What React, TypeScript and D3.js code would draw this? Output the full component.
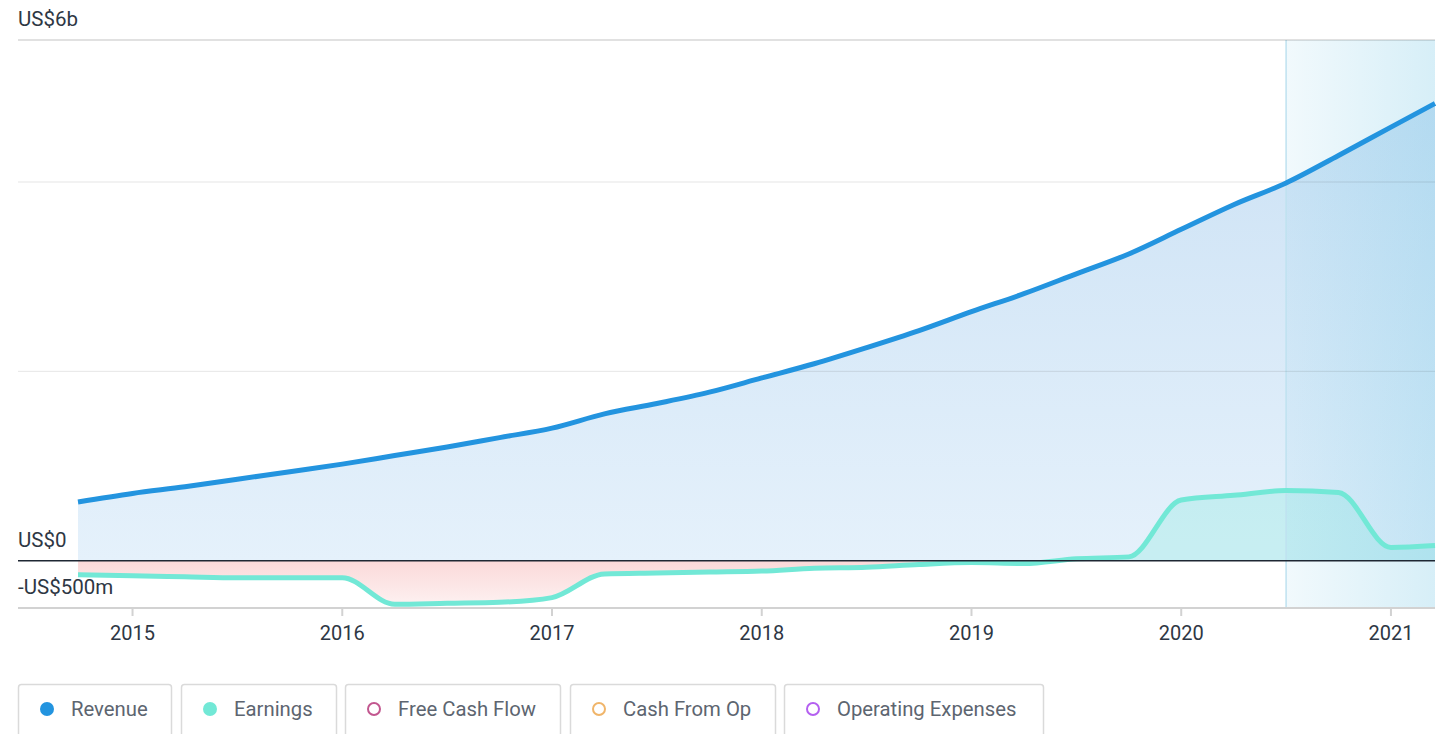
import React from "react";
import * as d3 from "d3";

// quarterly points, decimal years
const dates = [
  2014.74, 2015.0, 2015.25, 2015.5, 2015.75, 2016.0, 2016.25, 2016.5, 2016.75,
  2017.0, 2017.25, 2017.5, 2017.75, 2018.0, 2018.25, 2018.5, 2018.75, 2019.0,
  2019.25, 2019.5, 2019.75, 2020.0, 2020.25, 2020.5, 2020.75, 2021.0, 2021.21,
];
// US$ billions
const revenue = [
  0.62, 0.71, 0.78, 0.86, 0.94, 1.02, 1.11, 1.2, 1.3, 1.4, 1.55, 1.66, 1.78,
  1.93, 2.08, 2.25, 2.43, 2.63, 2.82, 3.03, 3.24, 3.5, 3.76, 3.99, 4.28, 4.58,
  4.83,
];
const earnings = [
  -0.15, -0.16, -0.17, -0.18, -0.18, -0.18, -0.46, -0.45, -0.44, -0.39, -0.14,
  -0.13, -0.12, -0.11, -0.08, -0.07, -0.04, -0.02, -0.03, 0.02, 0.04, 0.64,
  0.69, 0.74, 0.72, 0.14, 0.16,
];
const yearTicks = [2015, 2016, 2017, 2018, 2019, 2020, 2021];
const gridValues = [2, 4];
const forecastStart = 2020.5;
const yLabels = [
  { v: 5.5, text: "US$6b" },
  { v: 0, text: "US$0" },
  { v: -0.5, text: "-US$500m" },
];
const legendItems = [
  { label: "Revenue", color: "#2394df", filled: true },
  { label: "Earnings", color: "#72e8d6", filled: true },
  { label: "Free Cash Flow", color: "#c2578f", filled: false },
  { label: "Cash From Op", color: "#f0b56a", filled: false },
  { label: "Operating Expenses", color: "#b460f0", filled: false },
];
const legendWidths = [153, 155, 215, 205, 259];

const W = 1442;
const H = 734;
const left = 18;
const right = 1435;
const top = 40;
const bottom = 608;
const font = "Roboto, 'Noto Sans', sans-serif";

export default function App() {
  const x = d3.scaleLinear().domain([2014.74, 2021.21]).range([78, right]);
  const y = d3.scaleLinear().domain([-0.5, 5.5]).range([bottom, top]);

  const rev = dates.map((d, i) => ({ d, v: revenue[i] }));
  const earn = dates.map((d, i) => ({ d, v: earnings[i] }));

  const line = d3
    .line<{ d: number; v: number }>()
    .x((p) => x(p.d))
    .y((p) => y(p.v))
    .curve(d3.curveMonotoneX);
  const area = d3
    .area<{ d: number; v: number }>()
    .x((p) => x(p.d))
    .y0(y(0))
    .y1((p) => y(p.v))
    .curve(d3.curveMonotoneX);

  const y0 = y(0);
  const fx = x(forecastStart);

  let lx = left;
  const legend = legendItems.map((it, i) => {
    const bx = Math.round(lx);
    lx += legendWidths[i] + 9.5;
    return { ...it, bx, w: legendWidths[i] };
  });

  return (
    <svg
      width={W}
      height={H}
      style={{ position: "absolute", left: 0, top: 0, fontFamily: font }}
    >
      <defs>
        <linearGradient id="revFill" gradientUnits="userSpaceOnUse" x1="0" y1={top} x2="0" y2={y0}>
          <stop offset="0" stopColor="#c9e0f4" />
          <stop offset="1" stopColor="#e5f1fb" />
        </linearGradient>
        <linearGradient id="negFill" gradientUnits="userSpaceOnUse" x1="0" y1={y0} x2="0" y2={bottom}>
          <stop offset="0" stopColor="rgb(240,128,128)" stopOpacity={0.3} />
          <stop offset="1" stopColor="rgb(240,128,128)" stopOpacity={0.1} />
        </linearGradient>
        <linearGradient id="fcFill" gradientUnits="userSpaceOnUse" x1={fx} y1="0" x2={right} y2="0">
          <stop offset="0" stopColor="rgb(120,200,230)" stopOpacity={0.1} />
          <stop offset="1" stopColor="rgb(120,200,230)" stopOpacity={0.3} />
        </linearGradient>
        <clipPath id="above">
          <rect x={0} y={0} width={W} height={y0} />
        </clipPath>
        <clipPath id="below">
          <rect x={0} y={y0} width={W} height={H - y0} />
        </clipPath>
      </defs>

      {/* areas */}
      <path d={area(rev) || ""} fill="url(#revFill)" />
      <path d={area(earn) || ""} fill="rgba(113,231,214,0.25)" clipPath="url(#above)" />
      <path d={area(earn) || ""} fill="url(#negFill)" clipPath="url(#below)" />

      {/* forecast band */}
      <rect x={fx} y={top} width={right - fx} height={bottom - top} fill="url(#fcFill)" />
      <line x1={fx} x2={fx} y1={top} y2={bottom} stroke="#bfe2f0" strokeWidth={1.5} />

      {/* grid */}
      <line x1={left} x2={right} y1={top} y2={top} stroke="rgba(0,0,0,0.16)" strokeWidth={1.5} />
      {gridValues.map((g) => (
        <line key={g} x1={left} x2={right} y1={y(g)} y2={y(g)} stroke="rgba(0,0,0,0.1)" strokeWidth={1} />
      ))}
      <line x1={left} x2={right} y1={bottom} y2={bottom} stroke="#d2d2d2" strokeWidth={2} />
      {yearTicks.map((t) => (
        <g key={t}>
          <line x1={x(t)} x2={x(t)} y1={bottom} y2={bottom + 8} stroke="#d2d2d2" strokeWidth={2} />
          <text x={x(t)} y={bottom + 32} textAnchor="middle" fontSize={20} fill="#2e3744">
            {t}
          </text>
        </g>
      ))}

      {/* lines */}
      <path d={line(rev) || ""} fill="none" stroke="#2394df" strokeWidth={5} />
      <path d={line(earn) || ""} fill="none" stroke="#72e8d6" strokeWidth={5} />
      <line x1={left} x2={right} y1={y0} y2={y0} stroke="#1e2733" strokeWidth={1.5} />

      {yLabels.map((l) => (
        <text key={l.text} x={left} y={y(l.v) - 14} fontSize={20.5} fill="#2e3744">
          {l.text}
        </text>
      ))}

      {/* legend */}
      {legend.map((it) => (
        <g key={it.label}>
          <rect x={it.bx + 0.5} y={684.5} width={it.w} height={60} rx={3} fill="#fff" stroke="#dadada" strokeWidth={1.5} />
          <circle
            cx={it.bx + 29}
            cy={709}
            r={it.filled ? 7 : 6}
            fill={it.filled ? it.color : "#fff"}
            stroke={it.color}
            strokeWidth={it.filled ? 0 : 2}
          />
          <text x={it.bx + 53} y={716} fontSize={20.3} fill="#5d6570">
            {it.label}
          </text>
        </g>
      ))}
    </svg>
  );
}
